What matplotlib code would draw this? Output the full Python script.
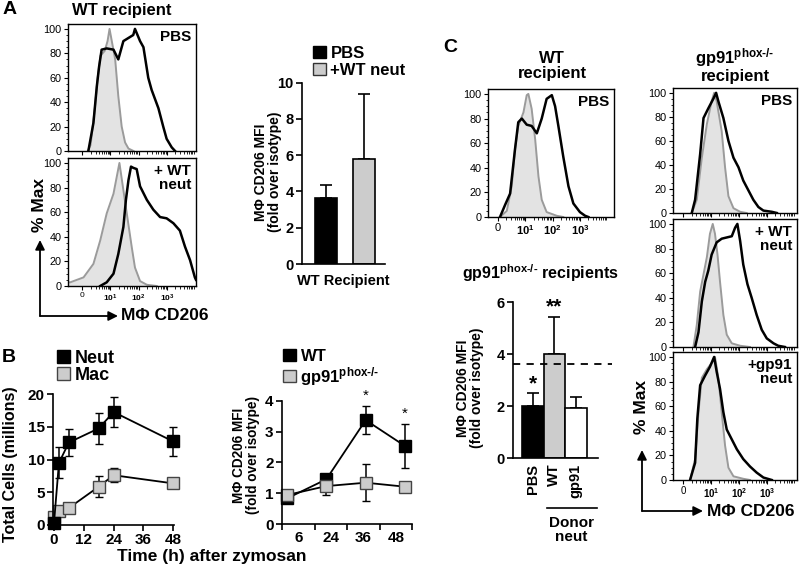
import numpy as np
import matplotlib
matplotlib.use('Agg')
import matplotlib.pyplot as plt
import matplotlib.ticker as mticker
from matplotlib.patches import Patch, FancyArrowPatch
from matplotlib.lines import Line2D

plt.rcParams['font.family'] = ['Liberation Sans', 'DejaVu Sans']
plt.rcParams['font.weight'] = 'bold'
plt.rcParams['mathtext.fontset'] = 'custom'
plt.rcParams['mathtext.rm'] = 'Liberation Sans:bold'
plt.rcParams['mathtext.bf'] = 'Liberation Sans:bold'
plt.rcParams['mathtext.it'] = 'Liberation Sans:bold:italic'
plt.rcParams['mathtext.sf'] = 'Liberation Sans'

# ---------------- data ----------------
# histogram x tick labels (decades)
hist_xt = ['0', r'$\mathsf{10^{1}}$', r'$\mathsf{10^{2}}$', r'$\mathsf{10^{3}}$']
KO = 'gp91$^{\\mathrm{phox\u2010/\u2010}}$'

# Panel A histograms: WT recipient, PBS
a_pbs_iso_u = [0.2, 0.3, 0.45, 0.55, 0.65, 0.8, 0.9, 0.97, 1.05, 1.17, 1.28, 1.4, 1.52, 1.64, 1.82]
a_pbs_iso_y = [0, 5, 35, 60, 78, 82, 90, 100, 90, 75, 45, 20, 7, 2, 0]
a_pbs_cd_u = [0.22, 0.40, 0.52, 0.60, 0.69, 0.87, 1.11, 1.28, 1.46, 1.81, 1.87, 2.05, 2.17, 2.34,
              2.46, 2.54, 2.70, 2.87, 2.99, 3.17, 3.29]
a_pbs_cd_y = [0, 23, 53, 69, 83, 84, 83, 75, 90, 95, 100, 90, 85, 60, 50, 45, 35, 20, 10, 3, 0]
# Panel A histograms: WT recipient, + WT neut
a_neut_iso_u = [-0.5, -0.42, 0.05, 0.40, 0.64, 0.87, 1.11, 1.32, 1.58, 1.76, 1.87, 2.05, 2.29, 2.64]
a_neut_iso_y = [3, 3, 7, 18, 37, 59, 75, 100, 59, 31, 15, 4, 1, 0]
a_neut_cd_u = [0.64, 0.87, 1.11, 1.28, 1.46, 1.55, 1.64, 1.73, 1.81, 1.93, 2.05, 2.29, 2.52, 2.76,
               2.99, 3.23, 3.46, 3.64, 3.82, 3.99, 4.03]
a_neut_cd_y = [0, 3, 10, 26, 48, 70, 86, 97, 96, 95, 81, 70, 62, 56, 55, 51, 45, 32, 21, 7, 5]

# Panel A bars
a_groups = ['PBS', '+WT neut']
a_means = [3.65, 5.8]
a_err = [0.68, 3.6]

# Panel B left: cell counts
b_times = [0, 2, 6, 18, 24, 48]
b_neut = [0.3, 9.5, 12.6, 14.75, 17.25, 12.75]
b_neut_err = [0.2, 2.35, 2.0, 2.35, 2.25, 2.25]
b_mac = [1.2, 2.15, 2.6, 5.85, 7.6, 6.35]
b_mac_err = [0.3, 0.3, 0.3, 1.65, 1.05, 0.5]

# Panel B right: CD206 MFI over time
b2_times = ['6', '24', '36', '48']
b2_wt = [0.83, 1.45, 3.37, 2.53]
b2_wt_err = [0.1, 0.1, 0.46, 0.72]
b2_ko = [0.94, 1.23, 1.34, 1.21]
b2_ko_err = [0.08, 0.3, 0.6, 0.1]
b2_stars = ['', '', '*', '*']

# Panel C: WT recipient PBS histogram
c_wt_iso_u = [0.07, 0.32, 0.5, 0.62, 0.74, 0.93, 1.05, 1.11, 1.23, 1.36, 1.48, 1.6, 1.78, 2.15, 2.39]
c_wt_iso_y = [0, 5, 25, 55, 74, 85, 99, 100, 88, 63, 33, 14, 4, 1, 0]
c_wt_cd_u = [0.07, 0.26, 0.44, 0.62, 0.74, 0.87, 1.05, 1.23, 1.42, 1.6, 1.78, 1.97, 2.09, 2.21,
             2.39, 2.58, 2.76, 3.0, 3.19, 3.31]
c_wt_cd_y = [0, 10, 19, 55, 77, 80, 75, 74, 68, 80, 96, 99, 90, 74, 49, 25, 11, 4, 1, 0]

# Panel C: gp91 recipient histograms
c_ko_pbs_iso_u = [0.31, 0.49, 0.67, 0.85, 1.02, 1.11, 1.2, 1.38, 1.5, 1.62, 1.8, 2.04, 2.27]
c_ko_pbs_iso_y = [0, 11, 46, 74, 93, 100, 93, 68, 38, 14, 4, 1, 0]
c_ko_pbs_cd_u = [0.31, 0.43, 0.61, 0.73, 0.9, 1.08, 1.18, 1.26, 1.44, 1.62, 1.8, 1.98, 2.15, 2.33,
                 2.51, 2.69, 2.87, 3.17, 3.35]
c_ko_pbs_cd_y = [0, 11, 49, 79, 87, 95, 100, 93, 79, 60, 46, 38, 27, 19, 11, 5, 2, 1, 0]

c_ko_wt_iso_u = [0.37, 0.49, 0.61, 0.73, 0.85, 0.96, 1.06, 1.14, 1.23, 1.32, 1.44, 1.56, 1.74, 2.04, 2.39]
c_ko_wt_iso_y = [0, 18, 45, 59, 73, 92, 100, 92, 75, 53, 26, 10, 3, 1, 0]
c_ko_wt_cd_u = [0.43, 0.55, 0.67, 0.79, 0.9, 1.02, 1.2, 1.38, 1.56, 1.74, 1.86, 1.94, 2.04, 2.15,
                2.3, 2.45, 2.63, 2.81, 2.99, 3.23, 3.4, 3.64]
c_ko_wt_cd_y = [0, 12, 37, 53, 62, 75, 85, 88, 89, 90, 97, 100, 86, 67, 51, 40, 26, 14, 7, 3, 1, 0]

c_ko_ko_iso_u = [0.25, 0.43, 0.55, 0.67, 0.85, 1.02, 1.14, 1.26, 1.38, 1.5, 1.62, 1.8, 2.15, 2.39]
c_ko_ko_iso_y = [0, 17, 55, 83, 90, 95, 100, 83, 55, 28, 10, 3, 1, 0]
c_ko_ko_cd_u = [0.25, 0.43, 0.51, 0.61, 0.79, 0.96, 1.11, 1.2, 1.32, 1.44, 1.56, 1.74, 1.92, 2.15,
                2.39, 2.63, 2.87, 3.17]
c_ko_ko_cd_y = [0, 14, 50, 77, 85, 92, 100, 88, 74, 55, 41, 33, 25, 17, 11, 6, 2, 0]

# Panel C bars
c_cats = ['PBS', 'WT', 'gp91']
c_means = [2.0, 4.0, 1.92]
c_err = [0.5, 1.43, 0.42]
c_stars = ['*', '**', '']
c_wt_pbs_ref = 3.62

# ---------------- figure ----------------
W, H = 800, 570
fig = plt.figure(figsize=(8, 5.7), dpi=100)

GRAY = '#cccccc'
ISO_FILL = '#e3e3e3'
ISO_LINE = '#9b9b9b'


def rect(x0, y0, x1, y1):
    return [x0 / W, 1 - y1 / H, (x1 - x0) / W, (y1 - y0) / H]


def ftext(x, y, s, **kw):
    kw.setdefault('ha', 'center')
    kw.setdefault('va', 'center')
    return fig.text(x / W, 1 - y / H, s, **kw)


def farrow(x0, y0, x1, y1):
    fig.add_artist(FancyArrowPatch((x0 / W, 1 - y0 / H), (x1 / W, 1 - y1 / H),
                                   transform=fig.transFigure, arrowstyle='-|>',
                                   mutation_scale=14, lw=1.3, color='black',
                                   shrinkA=0, shrinkB=0))


def hist_panel(r, xlim, iu, iy, cu, cy, label, show_x, xfs):
    ax = fig.add_axes(r)
    ax.fill_between(iu, iy, 0, color=ISO_FILL, lw=0)
    ax.plot(iu, iy, color=ISO_LINE, lw=1.4)
    ax.plot(cu, cy, color='black', lw=1.8)
    ax.set_xlim(*xlim)
    ax.set_ylim(0, 104)
    ax.set_yticks([0, 20, 40, 60, 80, 100])
    ax.yaxis.set_minor_locator(mticker.MultipleLocator(5))
    ax.set_xticks([0, 1, 2, 3])
    minors = [d + np.log10(k) for d in range(4) for k in range(2, 10)]
    ax.set_xticks([m for m in minors if m < xlim[1]], minor=True)
    if show_x:
        ax.set_xticklabels(hist_xt, fontsize=xfs, fontweight='normal')
    else:
        ax.set_xticklabels([])
    for lab in ax.get_yticklabels():
        lab.set_fontweight('normal')
        lab.set_fontsize(7.8)
    ax.tick_params(direction='out', length=3, width=0.8, pad=1.5)
    ax.tick_params(which='minor', length=1.8, width=0.6)
    for s in ax.spines.values():
        s.set_linewidth(1.0)
    ax.text(0.96, 0.95, label, transform=ax.transAxes, ha='right', va='top',
            fontsize=11, fontweight='bold', linespacing=0.95)
    return ax


def style_prism(ax, fs):
    ax.spines['top'].set_visible(False)
    ax.spines['right'].set_visible(False)
    ax.spines['left'].set_linewidth(1.2)
    ax.spines['bottom'].set_linewidth(1.2)
    ax.tick_params(direction='out', length=4, width=1.2, labelsize=fs, pad=2)
    for lab in ax.get_xticklabels() + ax.get_yticklabels():
        lab.set_fontweight('bold')


# ---- Panel A histograms ----
hist_panel(rect(68, 24, 196, 151), (-0.5, 4.03), a_pbs_iso_u, a_pbs_iso_y,
           a_pbs_cd_u, a_pbs_cd_y, 'PBS', False, 6)
hist_panel(rect(68, 158, 196, 286), (-0.5, 4.03), a_neut_iso_u, a_neut_iso_y,
           a_neut_cd_u, a_neut_cd_y, '+ WT\nneut', True, 6)
ftext(3, 10, 'A', fontsize=14, ha='left')
ftext(122, 10, 'WT recipient', fontsize=12)
farrow(40, 316, 40, 240)
farrow(40, 316, 118, 316)
ftext(40, 205, '% Max', fontsize=12.5, rotation=90)
ftext(121, 316, 'MΦ CD206', fontsize=12.5, ha='left')

# ---- Panel A bars ----
axa = fig.add_axes(rect(302, 82.7, 385, 264))
a_x = np.arange(len(a_groups))
a_cols = ['black', GRAY]
axa.bar(a_x, a_means, width=0.6, color=a_cols, edgecolor='black', linewidth=1.2, zorder=2)
axa.errorbar(a_x, a_means, yerr=[[0] * len(a_err), a_err], fmt='none', ecolor='black',
             elinewidth=1.2, capsize=4, capthick=1.2, zorder=1)
axa.set_xlim(-0.63, 1.55)
axa.set_ylim(0, 10)
axa.set_yticks([0, 2, 4, 6, 8, 10])
axa.set_xticks([])
style_prism(axa, 10.5)
ftext(268, 172, 'MΦ CD206 MFI\n(fold over isotype)', fontsize=10, rotation=90, linespacing=1.0)
ftext(343, 281, 'WT Recipient', fontsize=10.5)
fig.legend(handles=[Patch(fc='black', ec='black'), Patch(fc=GRAY, ec='#333333')],
           labels=a_groups, loc='upper left', bbox_to_anchor=(313 / W, 1 - 46 / H),
           frameon=False, fontsize=12, handlelength=0.75, handleheight=0.75,
           handletextpad=0.3, labelspacing=0.1, borderpad=0, borderaxespad=0)

# ---- Panel B left ----
axb = fig.add_axes(rect(53, 394, 174, 525))
for vals, errs, fc, ec in [(b_mac, b_mac_err, GRAY, '#444444'),
                           (b_neut, b_neut_err, 'black', 'black')]:
    cont = axb.errorbar(b_times, vals, yerr=errs, color='black', lw=1.3, marker='s', ms=9,
                        mfc=fc, mec=ec, mew=1.0, ecolor='black', elinewidth=1.1,
                        capsize=3, capthick=1.1)
    for art in cont.get_children():
        art.set_clip_on(False)
axb.set_xlim(-0.4, 48.3)
axb.set_ylim(0, 20)
axb.set_xticks([0, 12, 24, 36, 48])
axb.set_yticks([0, 5, 10, 15, 20])
style_prism(axb, 11)
ftext(2, 358, 'B', fontsize=14, ha='left')
ftext(11, 464, 'Total Cells (millions)', fontsize=11.5, rotation=90)
fig.legend(handles=[Patch(fc='black', ec='black'), Patch(fc=GRAY, ec='#444444')],
           labels=['Neut', 'Mac'], loc='upper left', bbox_to_anchor=(57 / W, 1 - 350 / H),
           frameon=False, fontsize=13, handlelength=0.7, handleheight=0.7,
           handletextpad=0.3, labelspacing=0.0, borderpad=0, borderaxespad=0)
ftext(212, 557, 'Time (h) after zymosan', fontsize=12.5)

# ---- Panel B right ----
axb2 = fig.add_axes(rect(282, 400.7, 412, 524))
b2_x = np.arange(len(b2_times))
for vals, errs, fc, ec in [(b2_wt, b2_wt_err, 'black', 'black'),
                           (b2_ko, b2_ko_err, GRAY, '#444444')]:
    cont = axb2.errorbar(b2_x, vals, yerr=errs, color='black', lw=1.3, marker='s', ms=8.5,
                         mfc=fc, mec=ec, mew=1.0, ecolor='black', elinewidth=1.1,
                         capsize=3, capthick=1.1)
    for art in cont.get_children():
        art.set_clip_on(False)
for xi, v, e, s in zip(b2_x, b2_wt, b2_wt_err, b2_stars):
    if s:
        axb2.annotate(s, (xi, v + e), xytext=(0, 2), textcoords='offset points',
                      ha='center', va='bottom', fontsize=11, fontweight='normal',
                      annotation_clip=False)
b2_lim = (-0.127, 3.178)
axb2.set_xlim(*b2_lim)
axb2.set_ylim(0, 4)
span = b2_lim[1] - b2_lim[0]
axb2.set_xticks([b2_lim[0] + (k + 0.5) * span / 4 for k in range(4)])
axb2.set_xticklabels(b2_times)
axb2.set_xticks([b2_lim[0] + k * span / 4 for k in range(5)], minor=True)
axb2.set_yticks([0, 1, 2, 3, 4])
style_prism(axb2, 11)
axb2.tick_params(axis='x', which='major', length=0, pad=5)
axb2.tick_params(axis='x', which='minor', length=4, width=1.2, direction='out')
ftext(246, 455, 'MΦ CD206 MFI\n(fold over isotype)', fontsize=9.8, rotation=90, linespacing=1.0)
fig.legend(handles=[Patch(fc='black', ec='black'), Patch(fc=GRAY, ec='#444444')],
           labels=['WT', KO], loc='upper left',
           bbox_to_anchor=(283 / W, 1 - 349 / H),
           frameon=False, fontsize=12, handlelength=0.75, handleheight=0.75,
           handletextpad=0.3, labelspacing=0.05, borderpad=0, borderaxespad=0)

# ---- Panel C histograms ----
ftext(443, 47, 'C', fontsize=14, ha='left')
ftext(552, 66, 'WT\nrecipient', fontsize=12, linespacing=0.95)
hist_panel(rect(488, 89, 614, 217), (-0.37, 4.25), c_wt_iso_u, c_wt_iso_y,
           c_wt_cd_u, c_wt_cd_y, 'PBS', True, 8)
ftext(735, 65, KO + '\nrecipient', fontsize=12, linespacing=0.95)
hist_panel(rect(673, 88, 797, 213), (-0.36, 4.07), c_ko_pbs_iso_u, c_ko_pbs_iso_y,
           c_ko_pbs_cd_u, c_ko_pbs_cd_y, 'PBS', False, 7)
hist_panel(rect(673, 219, 797, 347), (-0.36, 4.07), c_ko_wt_iso_u, c_ko_wt_iso_y,
           c_ko_wt_cd_u, c_ko_wt_cd_y, '+ WT\nneut', False, 7)
hist_panel(rect(673, 352, 797, 480), (-0.36, 4.07), c_ko_ko_iso_u, c_ko_ko_iso_y,
           c_ko_ko_cd_u, c_ko_ko_cd_y, '+gp91\nneut', True, 7)
farrow(642, 511, 642, 450)
farrow(642, 511, 703, 511)
ftext(642, 407, '% Max', fontsize=12.5, rotation=90)
ftext(707, 511, 'MΦ CD206', fontsize=12.5, ha='left')

# ---- Panel C bars ----
ftext(540, 273, KO + ' recipients', fontsize=11.5)
axc = fig.add_axes(rect(513, 302, 598, 458))
c_x = np.arange(len(c_cats))
axc.bar(c_x, c_means, width=1.0, color=['black', GRAY, 'white'], edgecolor='black',
        linewidth=1.2, zorder=2)
axc.errorbar(c_x, c_means, yerr=[[0] * len(c_err), c_err], fmt='none', ecolor='black',
             elinewidth=1.2, capsize=4, capthick=1.2, zorder=1)
for xi, v, e, s in zip(c_x, c_means, c_err, c_stars):
    if s:
        axc.annotate(s, (xi, v + e), xytext=(0, 0), textcoords='offset points',
                     ha='center', va='bottom', fontsize=15, annotation_clip=False)
axc.axhline(c_wt_pbs_ref, xmin=0, xmax=1.16, color='black', lw=1.3, ls=(0, (4, 3.5)),
            clip_on=False, zorder=3)
axc.set_xlim(-0.92, 3.03)
axc.set_ylim(0, 6)
axc.set_yticks([0, 2, 4, 6])
axc.set_xticks(c_x)
axc.set_xticklabels(c_cats, rotation=90)
style_prism(axc, 10.5)
axc.tick_params(axis='x', length=0, pad=4)
ftext(470, 388, 'MΦ CD206 MFI\n(fold over isotype)', fontsize=10, rotation=90, linespacing=1.0)
fig.add_artist(Line2D([547 / W, 597 / W], [1 - 508 / H, 1 - 508 / H], color='black', lw=1.2))
ftext(571, 530, 'Donor\nneut', fontsize=11, linespacing=0.95)

fig.savefig('out.png', dpi=100)
